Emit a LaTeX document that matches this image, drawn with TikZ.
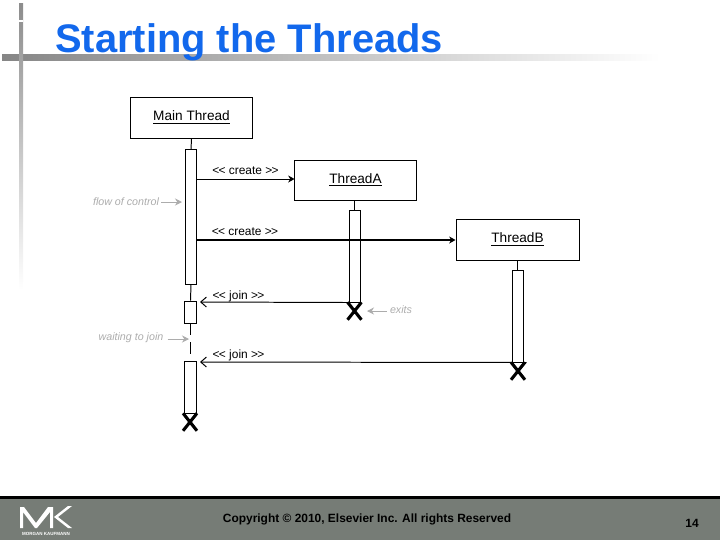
\documentclass[tikz,border=0pt]{standalone}
\usepackage{fontspec}
\setmainfont{Liberation Sans}
\usepackage{xcolor}
\usepackage{tikz}
\usetikzlibrary{arrows.meta, shapes.misc}

\definecolor{titleblue}{RGB}{18,104,236}
\definecolor{footgray}{RGB}{118,124,118}
\definecolor{notegray}{RGB}{172,172,172}

\tikzset{
  threadbox/.style={draw, line width=0.7pt, fill=white, inner sep=0pt, font=\fontsize{9.7}{11}\selectfont},
  lifebar/.style={draw, line width=0.7pt, fill=white, inner sep=0pt, minimum width=0.29cm},
  stopmark/.style={cross out, draw, line width=2.2pt, inner sep=0pt, minimum width=0.27cm, minimum height=0.36cm},
  msg/.style={font=\fontsize{8.5}{10}\selectfont, inner sep=0pt},
  note/.style={font=\itshape\fontsize{7.6}{10}\selectfont, text=notegray, inner sep=0pt},
  notearrow/.style={draw=notegray, line width=0.6pt, -{Stealth[length=5pt, width=5pt]}},
  callarrow/.style={line width=0.7pt, -{Stealth[length=4.5pt, width=5pt]}},
  joinarrow/.style={line width=0.7pt, -{Straight Barb[length=4pt, width=7pt]}},
}

\begin{document}
\begin{tikzpicture}[x=0.025cm, y=-0.025cm]

  \useasboundingbox (0,0) rectangle (720,540);

  \shade[left color=gray!95, right color=white] (2,54) rectangle (660,60);
  \shade[top color=gray!90, bottom color=white] (19,3) rectangle (23,290);
  \fill[white] (19,20) rectangle (23,22);

  \node[font=\bfseries\fontsize{28.35}{30}\selectfont, text=titleblue, inner sep=0pt, anchor=base west] (title) at (55,52) {Starting the Threads};

  \fill[footgray] (0,498) rectangle (720,540);
  \fill[black] (0,496) rectangle (720,499);

  \fill[white] (20,528) -- (20,507) -- (24,507) -- (36,523) -- (48,507) -- (53,507) -- (53,528) -- (50,528) -- (50,512) -- (37,528) -- (35,528) -- (23,512) -- (23,528) -- cycle;
  \fill[white] (72,506) -- (58,517) -- (72,528) -- (68,528) -- (54,517) -- (68,506) -- cycle;
  \node[font=\bfseries\fontsize{3.2}{3}\selectfont, text=white, inner sep=0pt] (publisher) at (46,533.5) {MORGAN KAUFMANN};

  \node[font=\bfseries\fontsize{8.5}{10}\selectfont, inner sep=0pt] (copyright) at (367,519) {Copyright © 2010, Elsevier Inc. All rights Reserved};
  \node[font=\bfseries\fontsize{8.5}{10}\selectfont, inner sep=0pt] (pageno) at (692,523) {14};

  \node[threadbox, minimum width=3.025cm, minimum height=1.025cm] (mainbox) at (191.5,117.5) {\underline{Main Thread}};
  \node[threadbox, minimum width=3.025cm, minimum height=1cm] (boxA) at (355.5,180) {\underline{ThreadA}};
  \node[threadbox, minimum width=3.075cm, minimum height=1.025cm] (boxB) at (517.5,239.5) {\underline{ThreadB}};

  \node[lifebar, minimum height=3.35cm] (mainrun) at (191,217) {};
  \node[lifebar, minimum height=0.55cm] (mainwait) at (190.5,312) {};
  \node[lifebar, minimum height=1.3cm] (mainend) at (190.5,387) {};
  \node[lifebar, minimum width=0.275cm, minimum height=2.3cm] (runA) at (354.5,256) {};
  \node[lifebar, minimum width=0.275cm, minimum height=2.3cm] (runB) at (517.5,316) {};

  \node[stopmark] (stopmain) at (190,422) {};
  \node[stopmark] (stopA) at (354.5,311) {};
  \node[stopmark] (stopB) at (518,371) {};

  \draw[line width=0.7pt] (mainbox.south) -- (mainrun.north);
  \draw[line width=0.7pt] (boxA.south -| runA.north) -- (runA.north);
  \draw[line width=0.7pt] (boxB.south) -- (runB.north);
  \draw[line width=0.7pt] (mainrun.south) -- (mainwait.north);
  \draw[line width=0.7pt, dash pattern=on 8.5pt off 5pt] (mainwait.south) -- (mainend.north);

  \coordinate (createA) at (mainrun.east |- 0,179);
  \coordinate (createB) at (mainrun.east |- 0,240);
  \coordinate (joinA) at (200,302);
  \coordinate (joinB) at (200,362);

  \draw[callarrow] (createA) -- (createA -| boxA.west);
  \draw[callarrow, line width=1.5pt] (createB) -- (createB -| boxB.west);
  \draw[joinarrow] (runA.south west) -- (joinA);
  \draw[joinarrow] (runB.south east) ++(3,0) -- (joinB);

  \node[msg] (msgA) at (245.5,171) {<\kern-0.5pt< create >\kern-0.5pt>};
  \node[msg] (msgB) at (245,232) {<\kern-0.5pt< create >\kern-0.5pt>};
  \node[msg] (msgjoinA) at (238.5,296) {<\kern-0.5pt< join >\kern-0.5pt>};
  \node[msg] (msgjoinB) at (238.5,355) {<\kern-0.5pt< join >\kern-0.5pt>};

  \node[note] (noteflow) at (126,202) {flow of control};
  \node[note] (notewait) at (131,338) {waiting to join};
  \node[note] (noteexit) at (401,310) {exits};

  \draw[notearrow] (noteflow.east) ++(2,0) -- (182,202);
  \draw[notearrow] (notewait.east) ++(4,1) -- (189,339);
  \draw[notearrow] (noteexit.west) ++(-3,1) -- (367,311);

\end{tikzpicture}
\end{document}
